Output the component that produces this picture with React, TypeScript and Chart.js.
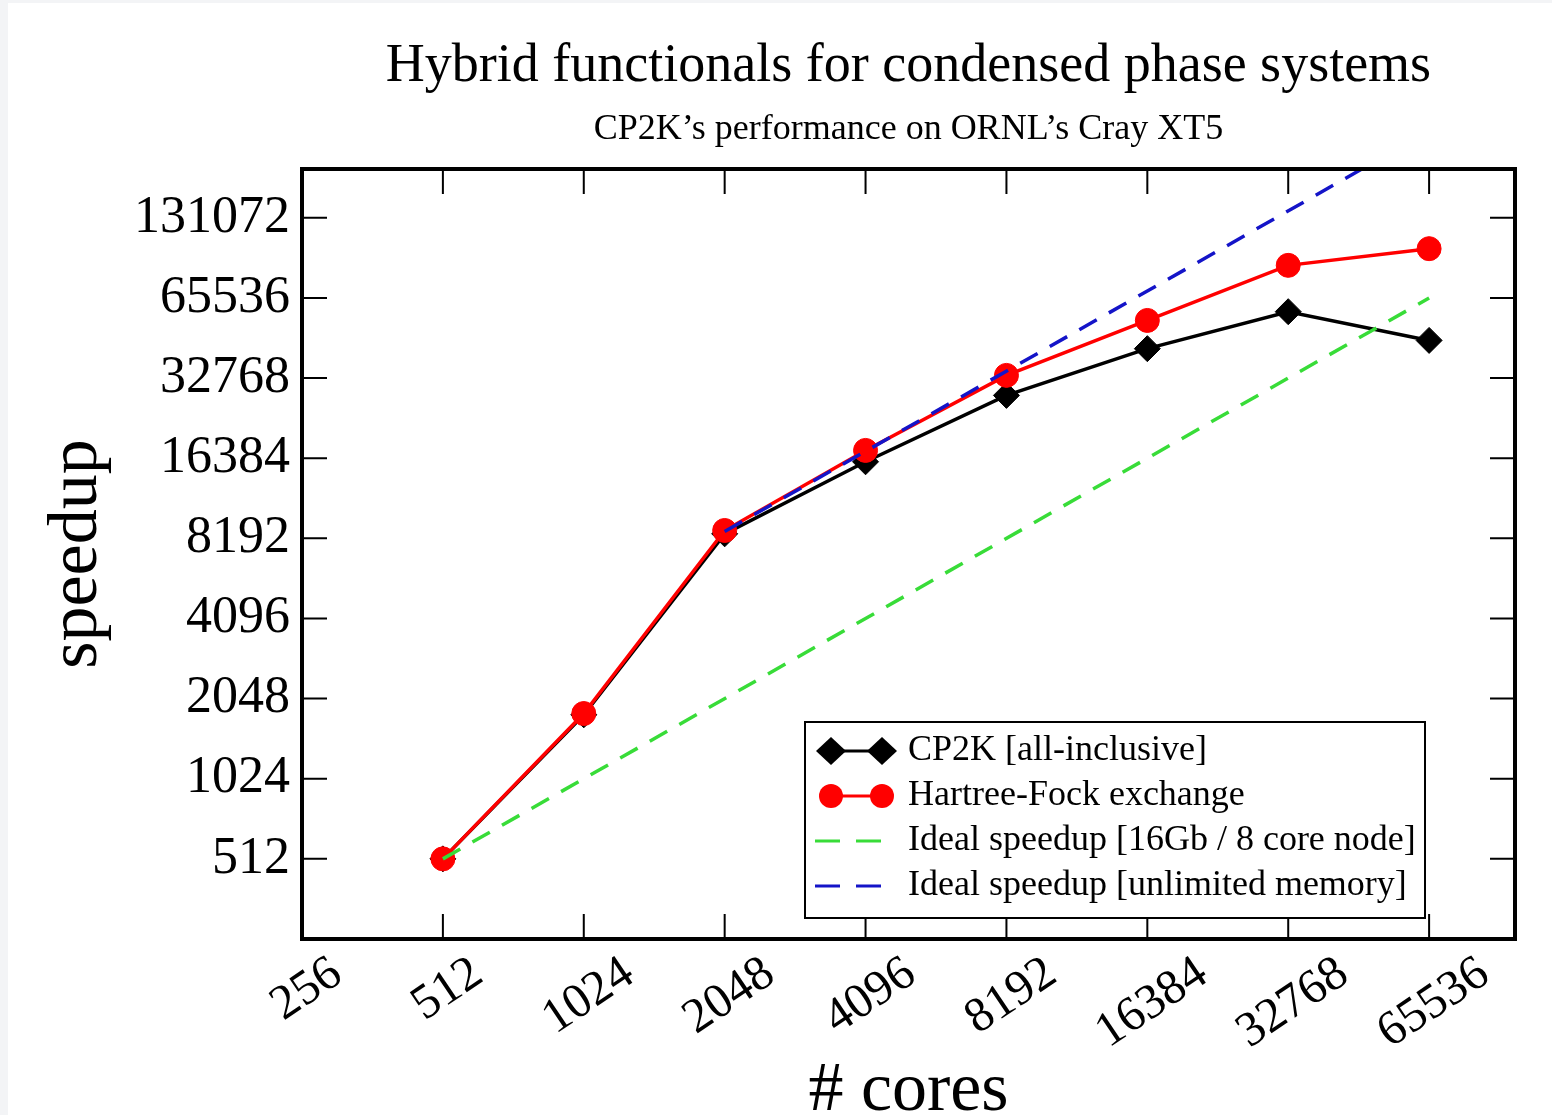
import React, { useEffect, useRef } from 'react';
import { Chart, registerables } from 'chart.js';

Chart.register(...registerables);

const titleText = 'Hybrid functionals for condensed phase systems';
const subtitleText = 'CP2K\u2019s performance on ORNL\u2019s Cray XT5';
const xTitle = '# cores';
const yTitle = 'speedup';

const cores = [512, 1024, 2048, 4096, 8192, 16384, 32768, 65536];
const cp2kSpeedup = [512, 1780, 8520, 15890, 28220, 42270, 58200, 45400];
const hfxSpeedup = [512, 1800, 8770, 17530, 33550, 53960, 86900, 100400];
const idealNodeCores = [512, 65536];
const idealNodeSpeedup = [512, 65536];
const idealUnlimitedCores = [2048, 65536];
const idealUnlimitedSpeedup = [8700, 278400];

const seriesLabels = [
  'CP2K [all-inclusive]',
  'Hartree-Fock exchange',
  'Ideal speedup [16Gb / 8 core node]',
  'Ideal speedup [unlimited memory]',
];

const xTickValues = [256, 512, 1024, 2048, 4096, 8192, 16384, 32768, 65536];
const yTickValues = [512, 1024, 2048, 4096, 8192, 16384, 32768, 65536, 131072];

const FONT = '"Liberation Serif", "Times New Roman", serif';
const GREEN = '#38dc38';
const BLUE = '#1414c8';
const RED = '#ff0000';

const toPoints = (xs: number[], ys: number[]) => xs.map((x, i) => ({ x, y: ys[i] }));

const framePlugin = {
  id: 'frameTicks',
  afterDatasetsDraw(chart: any) {
    const { ctx, chartArea: a, scales } = chart;
    const tl = 25;
    ctx.save();
    ctx.strokeStyle = '#000';
    ctx.lineWidth = 2;
    ctx.beginPath();
    scales.x.ticks.forEach((t: any) => {
      const px = scales.x.getPixelForValue(t.value);
      ctx.moveTo(px, a.bottom);
      ctx.lineTo(px, a.bottom - tl);
      ctx.moveTo(px, a.top);
      ctx.lineTo(px, a.top + tl);
    });
    scales.y.ticks.forEach((t: any) => {
      const py = scales.y.getPixelForValue(t.value);
      ctx.moveTo(a.left, py);
      ctx.lineTo(a.left + tl, py);
      ctx.moveTo(a.right, py);
      ctx.lineTo(a.right - tl, py);
    });
    ctx.stroke();
    ctx.lineWidth = 4;
    ctx.strokeRect(a.left, a.top, a.right - a.left, a.bottom - a.top);
    ctx.restore();
  },
};

// Rotated x tick labels: bounding box of each rotated label is centred under its tick.
const xLabelPlugin = {
  id: 'xTickLabels',
  afterDraw(chart: any) {
    const { ctx, chartArea: a, scales } = chart;
    const sx = scales.x;
    const theta = (34 * Math.PI) / 180;
    const size = 49;
    const D = 0.66 * size;
    const ty = a.bottom + 14;
    ctx.save();
    ctx.font = `${size}px ${FONT}`;
    ctx.fillStyle = '#000';
    ctx.textAlign = 'center';
    ctx.textBaseline = 'alphabetic';
    sx.ticks.forEach((t: any) => {
      const label = t.label != null ? String(t.label) : String(t.value);
      const W = ctx.measureText(label).width;
      const tx = sx.getPixelForValue(t.value) + 3;
      const cx = tx + (D * Math.sin(theta)) / 2;
      const cy = ty + (W / 2) * Math.sin(theta) + D * Math.cos(theta);
      ctx.save();
      ctx.translate(cx, cy);
      ctx.rotate(-theta);
      ctx.fillText(label, 0, 0);
      ctx.restore();
    });
    ctx.restore();
  },
};

const legendPlugin = {
  id: 'boxLegend',
  afterDraw(chart: any) {
    const { ctx, chartArea: a } = chart;
    const w = 620;
    const h = 196;
    const right = a.right - 90;
    const bottom = a.bottom - 21;
    const left = right - w;
    const top = bottom - h;
    ctx.save();
    ctx.fillStyle = '#fff';
    ctx.fillRect(left, top, w, h);
    ctx.strokeStyle = '#000';
    ctx.lineWidth = 2;
    ctx.strokeRect(left, top, w, h);
    chart.data.datasets.forEach((ds: any, i: number) => {
      const cy = top + 29 + i * 45;
      const x1 = left + 26;
      const x2 = left + 77;
      ctx.save();
      ctx.strokeStyle = ds.borderColor;
      ctx.lineWidth = 3;
      if (ds.borderDash && ds.borderDash.length) {
        ctx.setLineDash([25, 16]);
        ctx.beginPath();
        ctx.moveTo(left + 10, cy);
        ctx.lineTo(left + 77, cy);
        ctx.stroke();
      } else {
        ctx.beginPath();
        ctx.moveTo(x1, cy);
        ctx.lineTo(x2, cy);
        ctx.stroke();
      }
      ctx.setLineDash([]);
      if (ds.pointRadius > 0) {
        ctx.fillStyle = ds.pointBackgroundColor;
        [x1, x2].forEach((px) => {
          ctx.beginPath();
          if (ds.pointStyle === 'rectRot') {
            const r = ds.pointRadius + 2;
            ctx.moveTo(px - r, cy);
            ctx.lineTo(px, cy - r + 1);
            ctx.lineTo(px + r, cy);
            ctx.lineTo(px, cy + r - 1);
            ctx.closePath();
          } else {
            ctx.arc(px, cy, ds.pointRadius, 0, Math.PI * 2);
          }
          ctx.fill();
        });
      }
      ctx.restore();
      ctx.fillStyle = '#000';
      ctx.font = `36px ${FONT}`;
      ctx.textAlign = 'left';
      ctx.textBaseline = 'middle';
      ctx.fillText(ds.label, left + 103, cy);
    });
    ctx.restore();
  },
};

export default function App() {
  const canvasRef = useRef<HTMLCanvasElement | null>(null);

  useEffect(() => {
    document.body.style.margin = '3px 0 0 8px';
    document.body.style.background = '#f3f4f6';
    document.body.style.overflow = 'hidden';
    const canvas = canvasRef.current;
    if (!canvas) return;

    const chart = new Chart(canvas, {
      type: 'line',
      data: {
        datasets: [
          {
            label: seriesLabels[0],
            data: toPoints(cores, cp2kSpeedup),
            borderColor: '#000',
            backgroundColor: '#000',
            borderWidth: 3.5,
            pointStyle: 'rectRot',
            pointRadius: 13,
            pointBackgroundColor: '#000',
            pointBorderColor: '#000',
            pointBorderWidth: 1,
            order: 4,
          },
          {
            label: seriesLabels[1],
            data: toPoints(cores, hfxSpeedup),
            borderColor: RED,
            backgroundColor: RED,
            borderWidth: 3.5,
            pointStyle: 'circle',
            pointRadius: 12,
            pointBackgroundColor: RED,
            pointBorderColor: RED,
            pointBorderWidth: 1,
            order: 3,
          },
          {
            label: seriesLabels[2],
            data: toPoints(idealNodeCores, idealNodeSpeedup),
            borderColor: GREEN,
            backgroundColor: GREEN,
            borderWidth: 3.5,
            borderDash: [20, 14],
            pointRadius: 0,
            order: 2,
          },
          {
            label: seriesLabels[3],
            data: toPoints(idealUnlimitedCores, idealUnlimitedSpeedup),
            borderColor: BLUE,
            backgroundColor: BLUE,
            borderWidth: 3.5,
            borderDash: [20, 14],
            pointRadius: 0,
            order: 1,
          },
        ] as any,
      },
      options: {
        animation: false,
        responsive: false,
        events: [],
        layout: { padding: { left: 0, right: 37, top: 0, bottom: 0 } },
        plugins: {
          legend: { display: false },
          tooltip: { enabled: false },
          title: {
            display: true,
            text: titleText,
            fullSize: false,
            color: '#000',
            font: { family: FONT, size: 54, weight: 'normal', lineHeight: 1.2 },
            padding: { top: 31, bottom: 0 },
          },
          subtitle: {
            display: true,
            text: subtitleText,
            fullSize: false,
            color: '#000',
            font: { family: FONT, size: 36, weight: 'normal', lineHeight: 1.2 },
            padding: { top: 9, bottom: 18 },
          },
        },
        scales: {
          x: {
            type: 'logarithmic',
            position: 'bottom',
            min: 256,
            max: 100000,
            afterBuildTicks: (s: any) => {
              s.ticks = xTickValues.map((v) => ({ value: v }));
            },
            afterFit: (s: any) => {
              s.height = 176;
            },
            grid: { display: false, drawTicks: false },
            border: { display: false },
            ticks: {
              display: false,
              autoSkip: false,
              callback: (v: any) => String(v),
            },
            title: {
              display: true,
              text: xTitle,
              color: '#000',
              font: { family: FONT, size: 70, lineHeight: 1.2 },
              padding: { top: 0, bottom: -19 },
            },
          },
          y: {
            type: 'logarithmic',
            position: 'left',
            min: 256,
            max: 200000,
            afterBuildTicks: (s: any) => {
              s.ticks = yTickValues.map((v) => ({ value: v }));
            },
            afterFit: (s: any) => {
              s.width = 294;
            },
            grid: { display: false, drawTicks: false },
            border: { display: false },
            ticks: {
              autoSkip: false,
              padding: 12,
              color: '#000',
              font: { family: FONT, size: 52 },
              callback: (v: any) => String(v),
            },
            title: {
              display: true,
              text: yTitle,
              color: '#000',
              font: { family: FONT, size: 70, lineHeight: 1.2 },
              padding: { top: 28, bottom: 0 },
            },
          },
        },
      } as any,
      plugins: [framePlugin, xLabelPlugin, legendPlugin],
    });

    return () => {
      chart.destroy();
    };
  }, []);

  return (
    <canvas
      ref={canvasRef}
      width={1544}
      height={1112}
      style={{ display: 'block', background: '#fff', width: 1544, height: 1112 }}
    />
  );
}
